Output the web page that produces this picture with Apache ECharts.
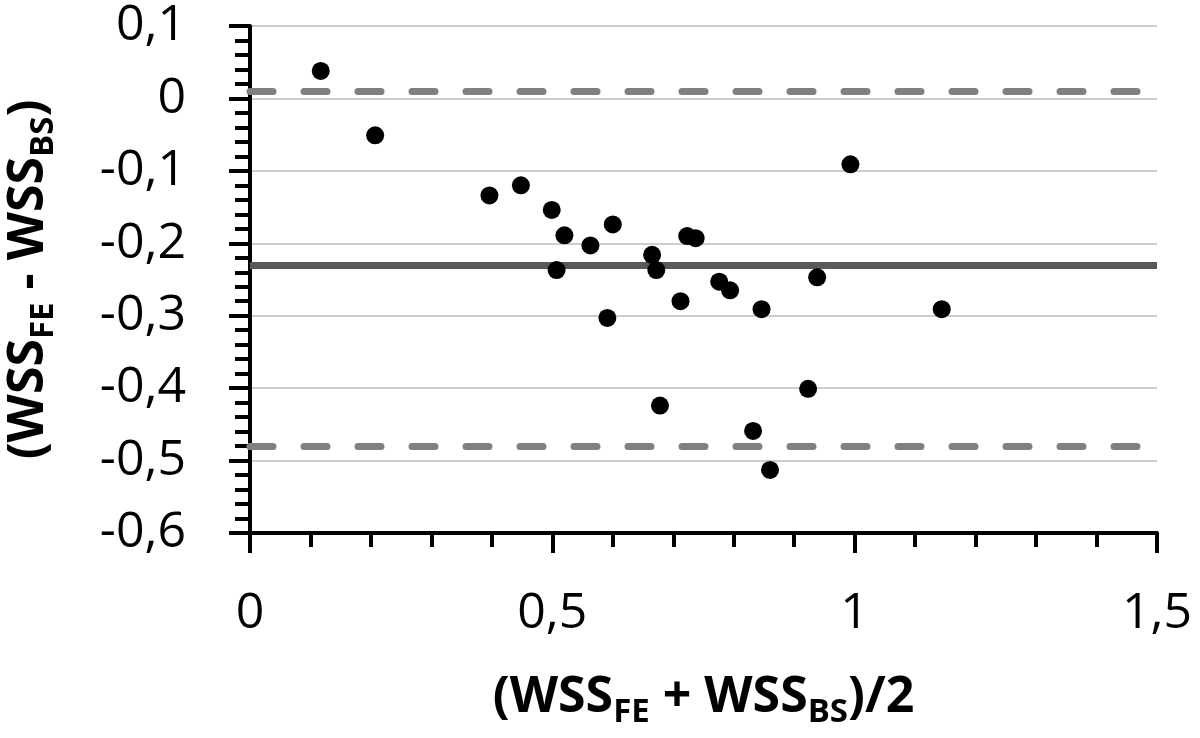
<!DOCTYPE html>
<html>
<head>
<meta charset="utf-8">
<script src="https://cdn.jsdelivr.net/npm/echarts@6/dist/echarts.min.js"></script>
<style>html,body{margin:0;padding:0;background:#fff}#c{width:1200px;height:738px}</style>
</head>
<body>
<div id="c"></div>
<script>
// Bland-Altman data: mean of WSS (x) and difference (y)
const meanValues = [0.117, 0.207, 0.396, 0.448, 0.499, 0.520, 0.507, 0.563, 0.600, 0.591, 0.665, 0.672, 0.678, 0.712, 0.723, 0.737, 0.776, 0.794, 0.832, 0.846, 0.860, 0.923, 0.938, 0.993, 1.144];
const diffValues = [0.038, -0.051, -0.134, -0.120, -0.154, -0.189, -0.237, -0.203, -0.174, -0.303, -0.216, -0.237, -0.424, -0.280, -0.190, -0.193, -0.253, -0.265, -0.459, -0.291, -0.513, -0.401, -0.247, -0.091, -0.291];
const meanDiff = -0.234;
const upperLoA = 0.015;
const lowerLoA = -0.485;
const xTicks = [0, 0.5, 1, 1.5];
const yTicks = [0.1, 0, -0.1, -0.2, -0.3, -0.4, -0.5, -0.6];

const points = meanValues.map((x, i) => [x, diffValues[i]]);
const fmt = v => String(Math.round(v * 10) / 10).replace('.', ',');
const FONT = '"Open Sans", sans-serif';

const chart = echarts.init(document.getElementById('c'), null, {renderer: 'canvas'});
chart.setOption({
  animation: false,
  backgroundColor: '#fff',
  grid: {left: 250, right: 43, top: 26, bottom: 205, containLabel: false, outerBoundsMode: 'none'},
  xAxis: {
    type: 'value', min: xTicks[0], max: xTicks[xTicks.length - 1], interval: 0.5,
    axisLine: {show: true, onZero: false, lineStyle: {color: '#000', width: 4}},
    axisTick: {show: true, length: 20, lineStyle: {color: '#000', width: 4}},
    minorTick: {show: true, splitNumber: 5, length: 14, lineStyle: {color: '#000', width: 4}},
    splitLine: {show: false},
    axisLabel: {fontSize: 50, color: '#000', fontFamily: FONT, margin: 56, formatter: fmt},
    name: '{m|(WSS}{s|FE}{m| + WSS}{s|BS}{m|)/2}',
    nameLocation: 'middle', nameGap: 140,
    nameTextStyle: {
      rich: {
        m: {fontSize: 50, fontWeight: 'bold', fontFamily: FONT, color: '#000', lineHeight: 56, verticalAlign: 'top'},
        s: {fontSize: 33, fontWeight: 'bold', fontFamily: FONT, color: '#000', lineHeight: 36, padding: [28, 0, 0, 0], verticalAlign: 'bottom'}
      }
    }
  },
  yAxis: {
    type: 'value', min: -0.6, max: 0.1, interval: 0.1,
    axisLine: {show: true, onZero: false, lineStyle: {color: '#000', width: 4}},
    axisTick: {show: true, length: 21, lineStyle: {color: '#000', width: 4}},
    minorTick: {show: true, splitNumber: 5, length: 15, lineStyle: {color: '#000', width: 4}},
    splitLine: {show: true, lineStyle: {color: '#bdbdbd', width: 1.5}},
    axisLabel: {fontSize: 50, color: '#000', fontFamily: FONT, margin: 64, formatter: fmt},
    name: '{m|(WSS}{s|FE}{m| - WSS}{s|BS}{m|)}',
    nameLocation: 'middle', nameGap: 190, nameRotate: 90,
    nameTextStyle: {
      rich: {
        m: {fontSize: 50, fontWeight: 'bold', fontFamily: FONT, color: '#000', lineHeight: 56, verticalAlign: 'top'},
        s: {fontSize: 33, fontWeight: 'bold', fontFamily: FONT, color: '#000', lineHeight: 36, padding: [28, 0, 0, 0], verticalAlign: 'bottom'}
      }
    }
  },
  series: [{
    type: 'scatter',
    data: points,
    symbol: 'circle',
    symbolSize: 18,
    itemStyle: {color: '#000', opacity: 1},
    z: 5,
    markLine: {
      silent: true,
      symbol: ['none', 'none'],
      label: {show: false},
      z: 3,
      data: [
        {yAxis: meanDiff, lineStyle: {color: '#595959', width: 7, type: 'solid'}},
        {yAxis: upperLoA, lineStyle: {color: '#808080', width: 7, type: [23, 31], cap: 'round'}},
        {yAxis: lowerLoA, lineStyle: {color: '#808080', width: 7, type: [23, 31], cap: 'round'}}
      ]
    }
  }]
});
</script>
</body>
</html>
